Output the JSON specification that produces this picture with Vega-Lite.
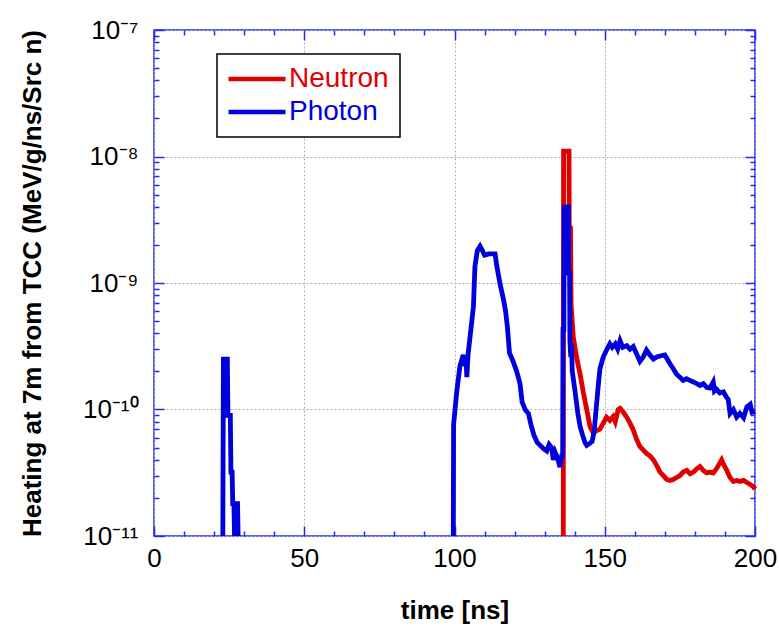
{
  "$schema": "https://vega.github.io/schema/vega-lite/v6.json",
  "width": 601,
  "height": 506,
  "autosize": {"type": "none"},
  "padding": {"left": 154, "top": 30, "right": 24, "bottom": 91},
  "config": {
    "font": "Liberation Sans",
    "view": {"stroke": "#2424ff", "strokeWidth": 1.5},
    "axis": {"grid": false, "domain": false, "tickColor": "#2424ff", "tickWidth": 1.5, "labelColor": "#000000", "titleColor": "#000000", "labelFont": "Liberation Sans", "titleFont": "Liberation Sans"}
  },
  "data": {"values": [
    {"series": "Neutron", "seg": 1, "time": 136.2, "heat": 1e-11},
    {"series": "Neutron", "seg": 1, "time": 136.3, "heat": 1.1e-8},
    {"series": "Neutron", "seg": 1, "time": 138.1, "heat": 1.1e-8},
    {"series": "Neutron", "seg": 1, "time": 138.2, "heat": 2.7e-9},
    {"series": "Neutron", "seg": 1, "time": 138.6, "heat": 2.7e-9},
    {"series": "Neutron", "seg": 1, "time": 138.8, "heat": 6.7e-10},
    {"series": "Neutron", "seg": 1, "time": 139.5, "heat": 3.8e-10},
    {"series": "Neutron", "seg": 1, "time": 140.6, "heat": 2.6e-10},
    {"series": "Neutron", "seg": 1, "time": 141.8, "heat": 1.9e-10},
    {"series": "Neutron", "seg": 1, "time": 142.9, "heat": 1.35e-10},
    {"series": "Neutron", "seg": 1, "time": 144.0, "heat": 1.0e-10},
    {"series": "Neutron", "seg": 1, "time": 145.1, "heat": 7.3e-11},
    {"series": "Neutron", "seg": 1, "time": 146.2, "heat": 6.5e-11},
    {"series": "Neutron", "seg": 1, "time": 147.3, "heat": 6.8e-11},
    {"series": "Neutron", "seg": 1, "time": 148.4, "heat": 7.0e-11},
    {"series": "Neutron", "seg": 1, "time": 149.5, "heat": 7.8e-11},
    {"series": "Neutron", "seg": 1, "time": 150.6, "heat": 8.7e-11},
    {"series": "Neutron", "seg": 1, "time": 151.7, "heat": 8.2e-11},
    {"series": "Neutron", "seg": 1, "time": 152.8, "heat": 8.8e-11},
    {"series": "Neutron", "seg": 1, "time": 153.5, "heat": 8.0e-11},
    {"series": "Neutron", "seg": 1, "time": 154.5, "heat": 1.0e-10},
    {"series": "Neutron", "seg": 1, "time": 155.1, "heat": 1.02e-10},
    {"series": "Neutron", "seg": 1, "time": 156.2, "heat": 9.5e-11},
    {"series": "Neutron", "seg": 1, "time": 157.3, "heat": 8.7e-11},
    {"series": "Neutron", "seg": 1, "time": 158.4, "heat": 7.8e-11},
    {"series": "Neutron", "seg": 1, "time": 159.5, "heat": 6.9e-11},
    {"series": "Neutron", "seg": 1, "time": 160.6, "heat": 5.8e-11},
    {"series": "Neutron", "seg": 1, "time": 161.7, "heat": 5.1e-11},
    {"series": "Neutron", "seg": 1, "time": 162.8, "heat": 4.8e-11},
    {"series": "Neutron", "seg": 1, "time": 163.9, "heat": 4.5e-11},
    {"series": "Neutron", "seg": 1, "time": 165.0, "heat": 4.3e-11},
    {"series": "Neutron", "seg": 1, "time": 166.2, "heat": 4.0e-11},
    {"series": "Neutron", "seg": 1, "time": 167.3, "heat": 3.6e-11},
    {"series": "Neutron", "seg": 1, "time": 168.4, "heat": 3.2e-11},
    {"series": "Neutron", "seg": 1, "time": 169.5, "heat": 3.0e-11},
    {"series": "Neutron", "seg": 1, "time": 170.6, "heat": 2.8e-11},
    {"series": "Neutron", "seg": 1, "time": 171.7, "heat": 2.75e-11},
    {"series": "Neutron", "seg": 1, "time": 172.8, "heat": 2.8e-11},
    {"series": "Neutron", "seg": 1, "time": 173.9, "heat": 2.9e-11},
    {"series": "Neutron", "seg": 1, "time": 175.0, "heat": 3.0e-11},
    {"series": "Neutron", "seg": 1, "time": 176.1, "heat": 3.2e-11},
    {"series": "Neutron", "seg": 1, "time": 177.3, "heat": 3.3e-11},
    {"series": "Neutron", "seg": 1, "time": 178.4, "heat": 3.1e-11},
    {"series": "Neutron", "seg": 1, "time": 179.5, "heat": 3.2e-11},
    {"series": "Neutron", "seg": 1, "time": 180.6, "heat": 3.4e-11},
    {"series": "Neutron", "seg": 1, "time": 181.7, "heat": 3.55e-11},
    {"series": "Neutron", "seg": 1, "time": 182.8, "heat": 3.3e-11},
    {"series": "Neutron", "seg": 1, "time": 183.9, "heat": 3.15e-11},
    {"series": "Neutron", "seg": 1, "time": 185.0, "heat": 3.2e-11},
    {"series": "Neutron", "seg": 1, "time": 186.1, "heat": 3.15e-11},
    {"series": "Neutron", "seg": 1, "time": 187.2, "heat": 3.4e-11},
    {"series": "Neutron", "seg": 1, "time": 188.9, "heat": 4.0e-11},
    {"series": "Neutron", "seg": 1, "time": 189.5, "heat": 3.7e-11},
    {"series": "Neutron", "seg": 1, "time": 190.6, "heat": 3.3e-11},
    {"series": "Neutron", "seg": 1, "time": 191.7, "heat": 2.9e-11},
    {"series": "Neutron", "seg": 1, "time": 192.8, "heat": 2.7e-11},
    {"series": "Neutron", "seg": 1, "time": 193.9, "heat": 2.75e-11},
    {"series": "Neutron", "seg": 1, "time": 195.0, "heat": 2.7e-11},
    {"series": "Neutron", "seg": 1, "time": 196.2, "heat": 2.75e-11},
    {"series": "Neutron", "seg": 1, "time": 197.3, "heat": 2.65e-11},
    {"series": "Neutron", "seg": 1, "time": 198.4, "heat": 2.55e-11},
    {"series": "Neutron", "seg": 1, "time": 199.5, "heat": 2.45e-11},
    {"series": "Neutron", "seg": 1, "time": 200.0, "heat": 2.35e-11},

    {"series": "Photon", "seg": 1, "time": 22.9, "heat": 1e-11},
    {"series": "Photon", "seg": 1, "time": 23.1, "heat": 2.5e-10},
    {"series": "Photon", "seg": 1, "time": 24.4, "heat": 2.5e-10},
    {"series": "Photon", "seg": 1, "time": 24.6, "heat": 9e-11},
    {"series": "Photon", "seg": 1, "time": 25.4, "heat": 9e-11},
    {"series": "Photon", "seg": 1, "time": 25.6, "heat": 3.2e-11},
    {"series": "Photon", "seg": 1, "time": 26.0, "heat": 3.2e-11},
    {"series": "Photon", "seg": 1, "time": 26.2, "heat": 1.8e-11},
    {"series": "Photon", "seg": 1, "time": 26.6, "heat": 1.8e-11},
    {"series": "Photon", "seg": 1, "time": 26.8, "heat": 1e-11},
    {"series": "Photon", "seg": 1, "time": 27.0, "heat": 1.8e-11},
    {"series": "Photon", "seg": 1, "time": 27.8, "heat": 1.8e-11},
    {"series": "Photon", "seg": 1, "time": 28.0, "heat": 1e-11},

    {"series": "Photon", "seg": 2, "time": 99.6, "heat": 1e-11},
    {"series": "Photon", "seg": 2, "time": 99.7, "heat": 7.6e-11},
    {"series": "Photon", "seg": 2, "time": 100.7, "heat": 1.35e-10},
    {"series": "Photon", "seg": 2, "time": 101.8, "heat": 2.2e-10},
    {"series": "Photon", "seg": 2, "time": 102.9, "heat": 2.7e-10},
    {"series": "Photon", "seg": 2, "time": 103.5, "heat": 2.2e-10},
    {"series": "Photon", "seg": 2, "time": 103.8, "heat": 2.7e-10},
    {"series": "Photon", "seg": 2, "time": 104.1, "heat": 1.8e-10},
    {"series": "Photon", "seg": 2, "time": 104.5, "heat": 2.7e-10},
    {"series": "Photon", "seg": 2, "time": 105.2, "heat": 3.8e-10},
    {"series": "Photon", "seg": 2, "time": 106.3, "heat": 6.5e-10},
    {"series": "Photon", "seg": 2, "time": 106.8, "heat": 1.35e-9},
    {"series": "Photon", "seg": 2, "time": 107.6, "heat": 1.8e-9},
    {"series": "Photon", "seg": 2, "time": 108.5, "heat": 1.95e-9},
    {"series": "Photon", "seg": 2, "time": 109.3, "heat": 1.8e-9},
    {"series": "Photon", "seg": 2, "time": 110.0, "heat": 1.66e-9},
    {"series": "Photon", "seg": 2, "time": 111.5, "heat": 1.7e-9},
    {"series": "Photon", "seg": 2, "time": 113.5, "heat": 1.7e-9},
    {"series": "Photon", "seg": 2, "time": 114.0, "heat": 1.4e-9},
    {"series": "Photon", "seg": 2, "time": 115.1, "heat": 1.0e-9},
    {"series": "Photon", "seg": 2, "time": 116.3, "heat": 7.4e-10},
    {"series": "Photon", "seg": 2, "time": 117.0, "heat": 6.0e-10},
    {"series": "Photon", "seg": 2, "time": 117.6, "heat": 4.5e-10},
    {"series": "Photon", "seg": 2, "time": 118.3, "heat": 2.8e-10},
    {"series": "Photon", "seg": 2, "time": 119.5, "heat": 2.4e-10},
    {"series": "Photon", "seg": 2, "time": 120.7, "heat": 2.0e-10},
    {"series": "Photon", "seg": 2, "time": 121.8, "heat": 1.6e-10},
    {"series": "Photon", "seg": 2, "time": 122.5, "heat": 1.15e-10},
    {"series": "Photon", "seg": 2, "time": 123.5, "heat": 1.0e-10},
    {"series": "Photon", "seg": 2, "time": 124.6, "heat": 9.3e-11},
    {"series": "Photon", "seg": 2, "time": 125.5, "heat": 7.5e-11},
    {"series": "Photon", "seg": 2, "time": 126.4, "heat": 6.3e-11},
    {"series": "Photon", "seg": 2, "time": 127.5, "heat": 5.5e-11},
    {"series": "Photon", "seg": 2, "time": 128.5, "heat": 5.2e-11},
    {"series": "Photon", "seg": 2, "time": 129.6, "heat": 4.9e-11},
    {"series": "Photon", "seg": 2, "time": 130.7, "heat": 4.7e-11},
    {"series": "Photon", "seg": 2, "time": 131.5, "heat": 5.3e-11},
    {"series": "Photon", "seg": 2, "time": 132.3, "heat": 5.0e-11},
    {"series": "Photon", "seg": 2, "time": 132.9, "heat": 4.0e-11},
    {"series": "Photon", "seg": 2, "time": 133.5, "heat": 4.6e-11},
    {"series": "Photon", "seg": 2, "time": 134.2, "heat": 4.2e-11},
    {"series": "Photon", "seg": 2, "time": 135.1, "heat": 3.5e-11},
    {"series": "Photon", "seg": 2, "time": 135.7, "heat": 4.3e-11},
    {"series": "Photon", "seg": 2, "time": 136.0, "heat": 4.3e-11},
    {"series": "Photon", "seg": 2, "time": 136.1, "heat": 4.3e-10},
    {"series": "Photon", "seg": 2, "time": 136.4, "heat": 4.3e-10},
    {"series": "Photon", "seg": 2, "time": 136.5, "heat": 4.0e-9},
    {"series": "Photon", "seg": 2, "time": 137.9, "heat": 4.0e-9},
    {"series": "Photon", "seg": 2, "time": 138.0, "heat": 1.2e-9},
    {"series": "Photon", "seg": 2, "time": 138.3, "heat": 1.2e-9},
    {"series": "Photon", "seg": 2, "time": 138.4, "heat": 3.5e-10},
    {"series": "Photon", "seg": 2, "time": 138.7, "heat": 2.6e-10},
    {"series": "Photon", "seg": 2, "time": 138.9, "heat": 3.3e-10},
    {"series": "Photon", "seg": 2, "time": 139.2, "heat": 2.0e-10},
    {"series": "Photon", "seg": 2, "time": 140.1, "heat": 1.4e-10},
    {"series": "Photon", "seg": 2, "time": 141.0, "heat": 9.5e-11},
    {"series": "Photon", "seg": 2, "time": 141.8, "heat": 7.3e-11},
    {"series": "Photon", "seg": 2, "time": 142.6, "heat": 6.3e-11},
    {"series": "Photon", "seg": 2, "time": 143.4, "heat": 5.5e-11},
    {"series": "Photon", "seg": 2, "time": 144.0, "heat": 5.2e-11},
    {"series": "Photon", "seg": 2, "time": 145.0, "heat": 5.4e-11},
    {"series": "Photon", "seg": 2, "time": 145.8, "heat": 5.6e-11},
    {"series": "Photon", "seg": 2, "time": 146.5, "heat": 6.8e-11},
    {"series": "Photon", "seg": 2, "time": 147.2, "heat": 1.05e-10},
    {"series": "Photon", "seg": 2, "time": 147.9, "heat": 1.6e-10},
    {"series": "Photon", "seg": 2, "time": 148.4, "heat": 2.1e-10},
    {"series": "Photon", "seg": 2, "time": 149.5, "heat": 2.6e-10},
    {"series": "Photon", "seg": 2, "time": 150.6, "heat": 2.95e-10},
    {"series": "Photon", "seg": 2, "time": 151.7, "heat": 3.3e-10},
    {"series": "Photon", "seg": 2, "time": 152.5, "heat": 3.1e-10},
    {"series": "Photon", "seg": 2, "time": 153.5, "heat": 3.3e-10},
    {"series": "Photon", "seg": 2, "time": 154.3, "heat": 3.0e-10},
    {"series": "Photon", "seg": 2, "time": 155.1, "heat": 3.5e-10},
    {"series": "Photon", "seg": 2, "time": 156.0, "heat": 3.1e-10},
    {"series": "Photon", "seg": 2, "time": 157.3, "heat": 3.2e-10},
    {"series": "Photon", "seg": 2, "time": 158.4, "heat": 3.0e-10},
    {"series": "Photon", "seg": 2, "time": 159.5, "heat": 3.15e-10},
    {"series": "Photon", "seg": 2, "time": 160.6, "heat": 2.75e-10},
    {"series": "Photon", "seg": 2, "time": 161.7, "heat": 2.4e-10},
    {"series": "Photon", "seg": 2, "time": 162.8, "heat": 2.6e-10},
    {"series": "Photon", "seg": 2, "time": 163.9, "heat": 2.95e-10},
    {"series": "Photon", "seg": 2, "time": 165.0, "heat": 2.7e-10},
    {"series": "Photon", "seg": 2, "time": 166.2, "heat": 2.5e-10},
    {"series": "Photon", "seg": 2, "time": 167.3, "heat": 2.6e-10},
    {"series": "Photon", "seg": 2, "time": 168.4, "heat": 2.65e-10},
    {"series": "Photon", "seg": 2, "time": 170.0, "heat": 2.7e-10},
    {"series": "Photon", "seg": 2, "time": 171.7, "heat": 2.3e-10},
    {"series": "Photon", "seg": 2, "time": 172.8, "heat": 2.1e-10},
    {"series": "Photon", "seg": 2, "time": 173.9, "heat": 1.9e-10},
    {"series": "Photon", "seg": 2, "time": 175.0, "heat": 1.8e-10},
    {"series": "Photon", "seg": 2, "time": 176.1, "heat": 1.7e-10},
    {"series": "Photon", "seg": 2, "time": 177.2, "heat": 1.75e-10},
    {"series": "Photon", "seg": 2, "time": 178.3, "heat": 1.7e-10},
    {"series": "Photon", "seg": 2, "time": 179.5, "heat": 1.65e-10},
    {"series": "Photon", "seg": 2, "time": 180.6, "heat": 1.6e-10},
    {"series": "Photon", "seg": 2, "time": 181.7, "heat": 1.55e-10},
    {"series": "Photon", "seg": 2, "time": 182.8, "heat": 1.6e-10},
    {"series": "Photon", "seg": 2, "time": 183.9, "heat": 1.5e-10},
    {"series": "Photon", "seg": 2, "time": 185.0, "heat": 1.48e-10},
    {"series": "Photon", "seg": 2, "time": 186.1, "heat": 1.65e-10},
    {"series": "Photon", "seg": 2, "time": 186.5, "heat": 1.4e-10},
    {"series": "Photon", "seg": 2, "time": 187.2, "heat": 1.45e-10},
    {"series": "Photon", "seg": 2, "time": 188.3, "heat": 1.35e-10},
    {"series": "Photon", "seg": 2, "time": 189.5, "heat": 1.38e-10},
    {"series": "Photon", "seg": 2, "time": 190.5, "heat": 1.25e-10},
    {"series": "Photon", "seg": 2, "time": 191.1, "heat": 1.2e-10},
    {"series": "Photon", "seg": 2, "time": 191.7, "heat": 9.3e-11},
    {"series": "Photon", "seg": 2, "time": 192.8, "heat": 1.0e-10},
    {"series": "Photon", "seg": 2, "time": 193.9, "heat": 8.7e-11},
    {"series": "Photon", "seg": 2, "time": 195.0, "heat": 9.3e-11},
    {"series": "Photon", "seg": 2, "time": 196.2, "heat": 8.6e-11},
    {"series": "Photon", "seg": 2, "time": 197.3, "heat": 1.05e-10},
    {"series": "Photon", "seg": 2, "time": 198.4, "heat": 1.1e-10},
    {"series": "Photon", "seg": 2, "time": 199.0, "heat": 9.5e-11},
    {"series": "Photon", "seg": 2, "time": 200.0, "heat": 9.6e-11}
  ]},
  "resolve": {"axis": {"x": "independent", "y": "independent"}},
  "layer": [
    {
      "mark": {"type": "line", "strokeWidth": 4.8, "strokeCap": "butt", "strokeJoin": "miter"},
      "encoding": {
        "x": {"field": "time", "type": "quantitative", "scale": {"domain": [0, 200], "nice": false, "zero": false},
          "axis": {"orient": "bottom", "values": [0, 50, 100, 150, 200], "ticks": false, "grid": true, "gridColor": "#b0b0b0", "gridDash": [2, 2], "gridWidth": 1, "labelFontSize": 26, "labelPadding": 9, "labelFlush": false,
            "title": "time [ns]", "titleFontSize": 26, "titleFontWeight": "bold", "titleY": 82, "titleBaseline": "alphabetic"}},
        "y": {"field": "heat", "type": "quantitative", "scale": {"type": "log", "domain": [1e-11, 1e-7], "nice": false},
          "axis": {"orient": "left", "values": [1e-11, 1e-10, 1e-9, 1e-8, 1e-7], "ticks": false, "grid": true, "gridColor": "#b0b0b0", "gridDash": [2, 2], "gridWidth": 1, "labelFontSize": 26, "labelPadding": 16, "labelFlush": false,
            "labelExpr": "round(log(datum.value)/LN10) == -7 ? '10⁻⁷' : round(log(datum.value)/LN10) == -8 ? '10⁻⁸' : round(log(datum.value)/LN10) == -9 ? '10⁻⁹' : round(log(datum.value)/LN10) == -10 ? '10⁻¹⁰' : '10⁻¹¹'",
            "title": "Heating at 7m from TCC (MeV/g/ns/Src n)", "titleFontSize": 26, "titleFontWeight": "bold", "titleX": -114, "titleY": 253, "titleAngle": -90, "titleAlign": "center", "titleBaseline": "alphabetic"}},
        "color": {"field": "series", "type": "nominal", "scale": {"domain": ["Neutron", "Photon"], "range": ["#e00000", "#0000dd"]},
          "legend": {"orient": "none", "legendX": 63, "legendY": 24, "title": null, "fillColor": "#ffffff", "strokeColor": "#000000", "padding": 11,
            "symbolType": "M-3,0L3,0", "symbolSize": 361, "symbolStrokeWidth": 4.5, "symbolOffset": 15, "labelOffset": 18, "labelFontSize": 28, "labelFont": "Liberation Sans", "rowPadding": 5,
            "encode": {"legend": {"update": {"strokeWidth": {"value": 1.5}}}, "labels": {"update": {"fill": {"signal": "datum.value === 'Neutron' ? '#e00000' : '#0000dd'"}}}}}},
        "detail": {"field": "seg", "type": "nominal"}
      }
    },
    {
      "mark": {"type": "line", "opacity": 0},
      "encoding": {
        "x": {"field": "time", "type": "quantitative", "axis": {"orient": "bottom", "values": [0, 50, 100, 150, 200], "labels": false, "tickSize": -10, "title": null}},
        "y": {"field": "heat", "type": "quantitative", "axis": {"orient": "right", "values": [1e-11, 1e-10, 1e-9, 1e-8, 1e-7], "labels": false, "tickSize": -10, "title": null}},
        "detail": {"field": "seg", "type": "nominal"}
      }
    },
    {
      "mark": {"type": "line", "opacity": 0},
      "encoding": {
        "x": {"field": "time", "type": "quantitative", "axis": {"orient": "top", "values": [0, 50, 100, 150, 200], "labels": false, "tickSize": -10, "title": null}},
        "y": {"field": "heat", "type": "quantitative", "axis": {"orient": "left", "values": [1e-11, 1e-10, 1e-9, 1e-8, 1e-7], "labels": false, "tickSize": -10, "title": null}},
        "detail": {"field": "seg", "type": "nominal"}
      }
    },
    {
      "mark": {"type": "line", "opacity": 0},
      "encoding": {
        "x": {"field": "time", "type": "quantitative", "axis": {"orient": "bottom", "values": [10, 20, 30, 40, 60, 70, 80, 90, 110, 120, 130, 140, 160, 170, 180, 190], "labels": false, "tickSize": -5, "title": null}},
        "y": {"field": "heat", "type": "quantitative", "axis": {"orient": "left", "values": [2e-11, 3e-11, 4e-11, 5e-11, 6e-11, 7e-11, 8e-11, 9e-11, 2e-10, 3e-10, 4e-10, 5e-10, 6e-10, 7e-10, 8e-10, 9e-10, 2e-9, 3e-9, 4e-9, 5e-9, 6e-9, 7e-9, 8e-9, 9e-9, 2e-8, 3e-8, 4e-8, 5e-8, 6e-8, 7e-8, 8e-8, 9e-8], "labels": false, "tickSize": -5, "title": null}},
        "detail": {"field": "seg", "type": "nominal"}
      }
    },
    {
      "mark": {"type": "line", "opacity": 0},
      "encoding": {
        "x": {"field": "time", "type": "quantitative", "axis": {"orient": "top", "values": [10, 20, 30, 40, 60, 70, 80, 90, 110, 120, 130, 140, 160, 170, 180, 190], "labels": false, "tickSize": -5, "title": null}},
        "y": {"field": "heat", "type": "quantitative", "axis": {"orient": "right", "values": [2e-11, 3e-11, 4e-11, 5e-11, 6e-11, 7e-11, 8e-11, 9e-11, 2e-10, 3e-10, 4e-10, 5e-10, 6e-10, 7e-10, 8e-10, 9e-10, 2e-9, 3e-9, 4e-9, 5e-9, 6e-9, 7e-9, 8e-9, 9e-9, 2e-8, 3e-8, 4e-8, 5e-8, 6e-8, 7e-8, 8e-8, 9e-8], "labels": false, "tickSize": -5, "title": null}},
        "detail": {"field": "seg", "type": "nominal"}
      }
    }
  ]
}
